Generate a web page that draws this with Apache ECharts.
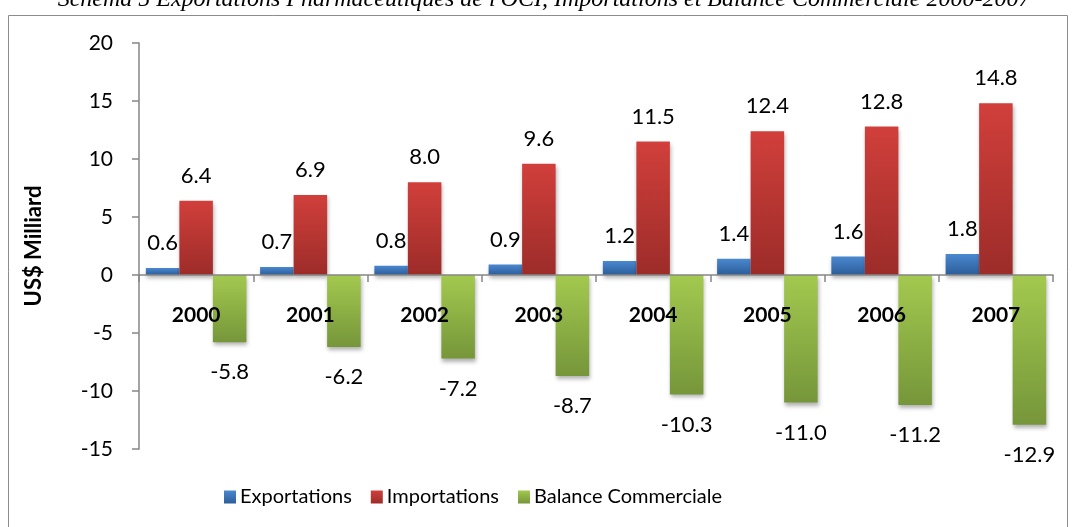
<!DOCTYPE html>
<html>
<head>
<meta charset="utf-8">
<script src="https://cdn.jsdelivr.net/npm/echarts@6/dist/echarts.min.js"></script>
<style>
  html, body { margin: 0; padding: 0; background: #fff; }
  #chart { width: 1072px; height: 527px; }
</style>
</head>
<body>
<div id="chart"></div>
<script>
  const years = ['2000', '2001', '2002', '2003', '2004', '2005', '2006', '2007'];
  const exportations = [0.6, 0.7, 0.8, 0.9, 1.2, 1.4, 1.6, 1.8];
  const importations = [6.4, 6.9, 8.0, 9.6, 11.5, 12.4, 12.8, 14.8];
  const balance = [-5.8, -6.2, -7.2, -8.7, -10.3, -11.0, -11.2, -12.9];
  const seriesNames = ['Exportations', 'Importations', 'Balance Commerciale'];

  const font = 'Lato';
  const axisGray = '#868686';

  const grad = (top, bottom) =>
    new echarts.graphic.LinearGradient(0, 0, 0, 1, [
      { offset: 0, color: top },
      { offset: 1, color: bottom },
    ]);

  const barSeries = (name, data, top, bottom, pos, dist) => ({
    name: name,
    type: 'bar',
    data: data,
    barGap: '0%',
    barCategoryGap: '12%',
    itemStyle: {
      color: grad(top, bottom),
      shadowColor: 'rgba(0,0,0,0.3)',
      shadowBlur: 4,
      shadowOffsetX: 1,
      shadowOffsetY: 3,
    },
    label: {
      show: true,
      position: pos,
      distance: dist,
      color: '#000',
      fontFamily: font,
      fontSize: 22,
      formatter: (p) => p.value.toFixed(1),
    },
  });

  const myChart = echarts.init(document.getElementById('chart'));

  const option = {
    animation: false,
    grid: { left: 139, right: 19, top: 43, bottom: 78 },
    graphic: [
      {
        type: 'rect',
        shape: { x: 8.5, y: 15.5, width: 1059, height: 600 },
        style: { fill: 'none', stroke: '#8c8c8c', lineWidth: 1 },
        silent: true,
      },
      {
        type: 'text',
        x: 544,
        y: 12,
        style: {
          text: "Schéma 5 Exportations Pharmaceutiques de l'OCI, Importations et Balance Commerciale 2000-2007",
          font: 'italic 24px "Liberation Serif"',
          fill: '#000',
          textAlign: 'center',
          textVerticalAlign: 'bottom',
        },
        silent: true,
      },
    ],
    legend: {
      data: seriesNames,
      left: 219,
      top: 482,
      icon: 'rect',
      itemWidth: 12,
      itemHeight: 13,
      itemGap: 19,
      textStyle: { fontFamily: font, fontSize: 20, color: '#000', padding: [0, 0, 0, -1] },
    },
    xAxis: {
      type: 'category',
      data: years,
      // keep the axis (and its labels) on the zero line, drawn over the bars
      offset: -174,
      z: 5,
      axisLine: { onZero: false, lineStyle: { color: axisGray, width: 1.5 } },
      axisTick: { show: true, length: 7, lineStyle: { color: axisGray, width: 1.5 } },
      axisLabel: {
        margin: 30,
        color: '#000',
        fontFamily: font,
        fontWeight: 'bold',
        fontSize: 21,
      },
    },
    yAxis: {
      type: 'value',
      min: -15,
      max: 20,
      interval: 5,
      name: 'US$ Milliard',
      nameLocation: 'middle',
      nameGap: 94,
      nameRotate: 90,
      nameTextStyle: { fontFamily: font, fontWeight: 'bold', fontSize: 22, color: '#000' },
      splitLine: { show: false },
      axisLine: { show: true, lineStyle: { color: axisGray, width: 1.5 } },
      axisTick: { show: true, length: 7, lineStyle: { color: axisGray, width: 1.5 } },
      axisLabel: { margin: 26, color: '#000', fontFamily: font, fontSize: 21 },
    },
    series: [
      barSeries(seriesNames[0], exportations, '#4a88d0', '#2c5d99', 'top', 14),
      barSeries(seriesNames[1], importations, '#d13f3b', '#9c2c29', 'top', 14),
      barSeries(seriesNames[2], balance, '#a3c94f', '#76963a', 'bottom', 19),
    ],
  };

  myChart.setOption(option);
</script>
</body>
</html>
